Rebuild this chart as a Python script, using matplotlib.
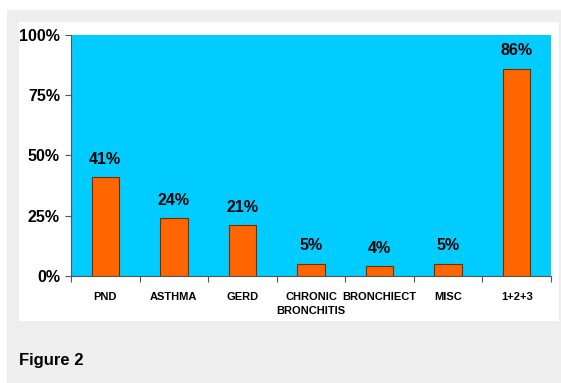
import matplotlib
matplotlib.use("Agg")
import matplotlib.pyplot as plt
from matplotlib.patches import Rectangle

categories = ["PND", "ASTHMA", "GERD", "CHRONIC\nBRONCHITIS", "BRONCHIECT", "MISC", "1+2+3"]
values = [41, 24, 21, 5, 4, 5, 86]
yticks = [0, 25, 50, 75, 100]

FAM = ["Liberation Sans Narrow", "Liberation Sans", "DejaVu Sans"]

W, H = 561, 383
fig = plt.figure(figsize=(W/100, H/100), dpi=100)
fig.patch.set_facecolor("white")
fig.add_artist(Rectangle((7/W, 0), (W-7)/W, (H-10)/H, transform=fig.transFigure,
                         facecolor="#eeeeee", edgecolor="none", zorder=0))
fig.add_artist(Rectangle((19/W, 1-321/H), (559-19)/W, (321-22)/H, transform=fig.transFigure,
                         facecolor="white", edgecolor="none", zorder=0))

ax = fig.add_axes([71/W, 1-275.7/H, (551-71)/W, (275.7-35)/H])
ax.set_facecolor("#00ccff")
x = list(range(len(categories)))
ax.bar(x, values, width=0.4, color="#ff6600", edgecolor="#7a2a00", linewidth=0.8, zorder=3)
for xi, v in zip(x, values):
    ax.text(xi, v + 4.3, f"{v}%", ha="center", va="bottom", fontsize=11.5,
            fontweight="bold", family=FAM, color="black")
ax.set_xlim(-0.5, len(categories) - 0.5)
ax.set_ylim(0, 100)
ax.set_yticks(yticks)
ax.set_yticklabels([f"{t}%" for t in yticks], fontsize=11.5, fontweight="bold", family=FAM)
ax.set_xticks([i - 0.5 for i in range(len(categories) + 1)])
ax.set_xticklabels([])
ax.set_xticks(x, minor=True)
ax.set_xticklabels(categories, minor=True, fontsize=8, fontweight="bold", family=FAM,
                   linespacing=1.5)
ax.tick_params(axis="x", which="minor", length=0, pad=12)
ax.tick_params(axis="x", which="major", length=4, color="#555555")
ax.tick_params(axis="y", length=4, color="#555555", pad=4)
for s in ["top", "right"]:
    ax.spines[s].set_visible(False)
ax.spines["left"].set_color("#555555")
ax.spines["bottom"].set_color("#555555")

fig.text(19/W, 1-360/H, "Figure 2", fontsize=12, fontweight="bold", family="Liberation Sans",
         va="center", ha="left")
fig.savefig("out.png", dpi=100)
